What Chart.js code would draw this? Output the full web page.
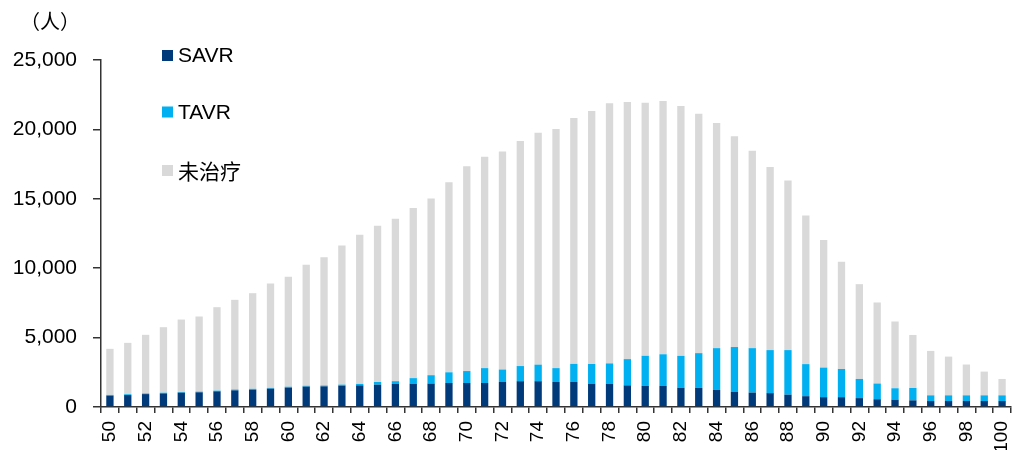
<!DOCTYPE html>
<html>
<head>
<meta charset="utf-8">
<script src="https://cdn.jsdelivr.net/npm/chart.js@4/dist/chart.umd.min.js"></script>
<style>
  html, body { margin: 0; padding: 0; background: #ffffff; }
  #wrap { position: relative; width: 1012px; height: 450px; }
</style>
</head>
<body>
<div id="wrap"><canvas id="c" width="1012" height="450"></canvas></div>
<script>
// Age groups on the x axis
const ages = ['50','51','52','53','54','55','56','57','58','59',
              '60','61','62','63','64','65','66','67','68','69',
              '70','71','72','73','74','75','76','77','78','79',
              '80','81','82','83','84','85','86','87','88','89',
              '90','91','92','93','94','95','96','97','98','99','100'];

// Patients by treatment (persons), stacked per age
const savr = [820, 860, 930, 980, 1030, 1060, 1130, 1200, 1250, 1320,
              1400, 1470, 1490, 1540, 1560, 1610, 1660, 1680, 1690, 1730,
              1730, 1730, 1800, 1860, 1860, 1800, 1800, 1680, 1660, 1560,
              1520, 1520, 1390, 1380, 1230, 1080, 1040, 1000, 890, 780,
              710, 710, 640, 560, 530, 480, 430, 430, 430, 430, 430];

const tavr = [50, 60, 50, 50, 50, 50, 50, 60, 60, 60,
              60, 60, 60, 70, 100, 190, 200, 400, 600, 770,
              860, 1070, 900, 1090, 1190, 1000, 1310, 1420, 1480, 1890,
              2170, 2280, 2290, 2500, 3010, 3240, 3200, 3100, 3210, 2310,
              2130, 2030, 1380, 1130, 820, 890, 410, 410, 410, 410, 410];

const untreated = [3320, 3700, 4220, 4720, 5220, 5410, 6010, 6460, 6890, 7520,
                   7920, 8720, 9230, 10030, 10750, 11260, 11710, 12250, 12740, 13700,
                   14760, 15230, 15710, 16210, 16710, 17220, 17710, 18220, 18740, 18520,
                   18230, 18240, 18000, 17250, 16220, 15180, 14220, 13200, 12220, 10710,
                   9200, 7720, 6830, 5840, 4810, 3820, 3200, 2790, 2220, 1710, 1180];

const seriesNames = ['SAVR', 'TAVR', '未治疗'];
const seriesColors = ['#003A7A', '#00B0F0', '#D9D9D9'];
const yTicks = [0, 5000, 10000, 15000, 20000, 25000];
const unitLabel = '（人）';

const LATIN = '"Liberation Sans", Arial, sans-serif';
const CJK = '"Noto Sans CJK SC", "Noto Sans", sans-serif';
const AXIS = '#333333';

// Unit caption and a vertical legend inside the plot area
const decorations = {
  id: 'decorations',
  afterDraw(chart) {
    const ctx = chart.ctx;
    ctx.save();
    ctx.fillStyle = '#000';
    ctx.textBaseline = 'middle';
    ctx.textAlign = 'center';
    ctx.font = '20px ' + CJK;
    ctx.fillText(unitLabel, 50, 21);

    const rows = [55.5, 112, 170.5];
    ctx.textAlign = 'left';
    chart.data.datasets.forEach((ds, i) => {
      const y = rows[i];
      ctx.fillStyle = ds.backgroundColor;
      ctx.fillRect(162, y - 5.5, 11, 11);
      ctx.fillStyle = '#000';
      ctx.font = (/[\u4e00-\u9fff]/.test(ds.label) ? '21px ' + CJK : '21px ' + LATIN);
      ctx.fillText(ds.label, 178, y + 1);
    });
    ctx.restore();
  }
};

new Chart(document.getElementById('c'), {
  type: 'bar',
  data: {
    labels: ages,
    datasets: [
      { label: seriesNames[0], data: savr, backgroundColor: seriesColors[0] },
      { label: seriesNames[1], data: tavr, backgroundColor: seriesColors[1] },
      { label: seriesNames[2], data: untreated, backgroundColor: seriesColors[2] }
    ]
  },
  options: {
    responsive: false,
    devicePixelRatio: 1,
    animation: false,
    datasets: { bar: { barPercentage: 0.41, categoryPercentage: 1.0, borderWidth: 0 } },
    layout: { padding: { left: 0, right: 1, top: 60, bottom: 0 } },
    plugins: { legend: { display: false }, tooltip: { enabled: false } },
    scales: {
      x: {
        stacked: true,
        grid: { offset: true, drawOnChartArea: false, drawTicks: true, tickLength: 6, color: AXIS, lineWidth: 1.5 },
        border: { display: true, color: AXIS, width: 1.5 },
        ticks: {
          autoSkip: false, minRotation: 90, maxRotation: 90, padding: 8,
          color: '#000', font: { family: LATIN, size: 19 },
          callback: (v, i) => (i % 2 === 0 ? ages[i] : '')
        },
        afterFit: s => { s.height = 43; s.paddingLeft = 0; s.paddingRight = 0; }
      },
      y: {
        stacked: true,
        min: 0, max: 25000,
        afterBuildTicks: s => { s.ticks = yTicks.map(v => ({ value: v })); },
        grid: { drawOnChartArea: false, drawTicks: true, tickLength: 8, color: AXIS, lineWidth: 1.5 },
        border: { display: true, color: AXIS, width: 1.5 },
        ticks: {
          padding: 16, color: '#000', font: { family: LATIN, size: 21 },
          callback: v => Number(v).toLocaleString('en-US')
        },
        afterFit: s => { s.width = 101; s.paddingTop = 0; s.paddingBottom = 0; }
      }
    }
  },
  plugins: [decorations]
});
</script>
</body>
</html>
